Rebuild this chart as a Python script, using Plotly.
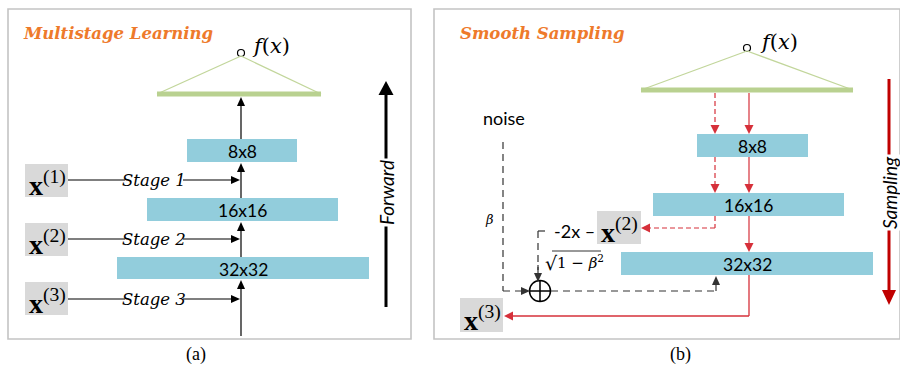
import plotly.graph_objects as go

# ---------------- content ----------------
panel_titles = ["Multistage Learning", "Smooth Sampling"]
panel_captions = ["(a)", "(b)"]
block_labels = ["8x8", "16x16", "32x32"]
stage_labels = ["Stage 1", "Stage 2", "Stage 3"]
input_labels = ["<b>x</b><sup>(1)</sup>", "<b>x</b><sup>(2)</sup>", "<b>x</b><sup>(3)</sup>"]
direction_labels = ["Forward", "Sampling"]
output_label = "<i>f</i>(<i>x</i>)"
noise_label = "noise"
beta_label = "β"
coef_label = "-2x –"
sqrt_sign = "√"
sqrt_body = "1 − <i>β</i><sup>2</sup>"

# ---------------- geometry (pixels) ----------------
W, H = 900, 365
panel_boxes = [(8, 411, 9, 339), (434, 900, 9, 339)]
title_pos = [(21, 33), (458, 33)]
caption_pos = [(196, 354), (680, 354)]
a_blocks = [(187, 297, 139, 162), (147, 338, 198, 221), (117, 369, 257, 279)]
b_blocks = [(697, 808, 134, 157), (653, 844, 193, 216), (621, 873, 252, 275)]
a_inputs = [(25, 68, 164, 197), (25, 68, 223, 256), (25, 68, 282, 315)]
a_stage_y = [180, 239, 299]
a_tri = (157, 321, 94, 241, 56)   # x0, x1, base y, apex x, apex y
b_tri = (641, 853, 90, 747, 51)

BLUE = "#92CDDC"
GRAY = "#D9D9D9"
GREEN = "#C2D69B"
GREEN_BAR = "#B9D190"
ORANGE = "#EE7A2B"
RED = "#C00000"
RED_L = "#D6303A"
BORDER = "#C4C4C4"
DASHK = "#333333"

SANS = "Lato"
SERIF = "DejaVu Serif"
TIMES = "Liberation Serif"

shapes = []
annots = []


def rect(x0, x1, y0, y1, fill):
    shapes.append(dict(type="rect", x0=x0, x1=x1, y0=y0, y1=y1, xref="x", yref="y",
                       fillcolor=fill, line=dict(width=0), layer="below"))


def seg(x0, y0, x1, y1, color="black", width=1.2, dash="solid"):
    shapes.append(dict(type="line", x0=x0, y0=y0, x1=x1, y1=y1, xref="x", yref="y",
                       line=dict(color=color, width=width, dash=dash)))


def head(tx, ty, dx, dy, length, width, color):
    # triangle whose tip is (tx,ty), pointing along (dx,dy)
    bx, by = tx - dx * length, ty - dy * length
    px, py = -dy * width / 2, dx * width / 2
    path = "M {},{} L {},{} L {},{} Z".format(tx, ty, bx + px, by + py, bx - px, by - py)
    shapes.append(dict(type="path", path=path, xref="x", yref="y", fillcolor=color,
                       line=dict(width=0)))


def arrow(x0, y0, x1, y1, color="black", width=1.2, dash="solid", hl=9, hw=8):
    if x0 == x1:
        d = 1 if y1 > y0 else -1
        seg(x0, y0, x1, y1 - d * (hl - 1), color, width, dash)
        head(x1, y1, 0, d, hl, hw, color)
    else:
        d = 1 if x1 > x0 else -1
        seg(x0, y0, x1 - d * (hl - 1), y1, color, width, dash)
        head(x1, y1, d, 0, hl, hw, color)


def txt(x, y, text, size=15, family=SANS, color="black", xa="center", ya="middle",
        angle=0, bg=None, style="normal", weight="normal"):
    annots.append(dict(x=x, y=y, xref="x", yref="y", text=text, showarrow=False,
                       xanchor=xa, yanchor=ya, textangle=angle,
                       font=dict(size=size, family=family, color=color, style=style,
                                 weight=weight),
                       bgcolor=bg or "rgba(0,0,0,0)", borderpad=1))


# panels
for (x0, x1, y0, y1) in panel_boxes:
    shapes.append(dict(type="rect", x0=x0, x1=x1, y0=y0, y1=y1, xref="x", yref="y",
                       line=dict(color=BORDER, width=1.6), fillcolor="rgba(0,0,0,0)"))
for (x, y), t in zip(title_pos, panel_titles):
    txt(x, y, t, size=16.5, family=SERIF, color=ORANGE, xa="left", style="italic",
        weight="bold")
for (x, y), t in zip(caption_pos, panel_captions):
    txt(x, y, t, size=18, family=TIMES)

# triangles
for (tx0, tx1, ty, ax_, ay_) in (a_tri, b_tri):
    seg(tx0, ty, ax_, ay_, GREEN, 1.3)
    seg(tx1, ty, ax_, ay_, GREEN, 1.3)
    seg(tx0, ty, tx1, ty, GREEN_BAR, 5)

# ---------------- panel (a) ----------------
for (x0, x1, y0, y1), lab in zip(a_blocks, block_labels):
    rect(x0, x1, y0, y1, BLUE)
    txt((x0 + x1) / 2, (y0 + y1) / 2 + 1, lab, size=17.5)
cx = 241
arrow(cx, a_blocks[0][2], cx, a_tri[2] + 3)
arrow(cx, a_blocks[1][2], cx, a_blocks[0][3] + 1)
arrow(cx, a_blocks[2][2], cx, a_blocks[1][3] + 1)
arrow(cx, 336, cx, a_blocks[2][3] + 1)
for (x0, x1, y0, y1), lab, sy, st in zip(a_inputs, input_labels, a_stage_y, stage_labels):
    rect(x0, x1, y0, y1, GRAY)
    txt(x0 + 2, (y0 + y1) / 2 + 3, lab, size=28, family=TIMES, xa="left")
    seg(x1, sy, 125, sy)
    txt(154, sy, st, size=16.5, family=SERIF, style="italic")
    arrow(183, sy, cx - 1, sy)
# forward arrow
arrow(386, 307, 386, 81, width=3, hl=14, hw=15)
txt(386, 193, direction_labels[0], size=19, angle=-90, bg="white", style="italic")
# output
txt(250, 46, output_label, size=21, family=SERIF, xa="left")

# ---------------- panel (b) ----------------
for (x0, x1, y0, y1), lab in zip(b_blocks, block_labels):
    rect(x0, x1, y0, y1, BLUE)
    txt((x0 + x1) / 2, (y0 + y1) / 2 + 1, lab, size=17.5)
sx, dx = 749, 715
arrow(sx, b_tri[2] + 3, sx, b_blocks[0][2], color=RED_L, hw=9)
arrow(dx, b_tri[2] + 3, dx, b_blocks[0][2], color=RED_L, dash="5px,3px", hw=9)
arrow(sx, b_blocks[0][3], sx, b_blocks[1][2], color=RED_L, hw=9)
arrow(dx, b_blocks[0][3], dx, b_blocks[1][2], color=RED_L, dash="5px,3px", hw=9)
arrow(sx, b_blocks[1][3], sx, b_blocks[2][2], color=RED_L, hw=9)
# dashed red to x(2)
seg(dx, b_blocks[1][3], dx, 228, RED_L, 1.2, "5px,3px")
arrow(dx, 228, 641, 228, color=RED_L, dash="5px,3px", hw=9)
# x(2) box
rect(597, 641, 211, 244, GRAY)
txt(599, 230, input_labels[1], size=28, family=TIMES, xa="left")
# solid red to x(3)
seg(sx, b_blocks[2][3], sx, 316, RED_L, 1.3)
arrow(sx, 316, 504, 316, color=RED_L, width=1.3, hw=9)
rect(460, 503, 298, 332, GRAY)
txt(462, 318, input_labels[2], size=28, family=TIMES, xa="left")
# noise path
txt(504, 118, noise_label, size=18)
seg(503, 142, 503, 291, DASHK, 1.2, "7px,5px")
arrow(503, 291, 530, 291, color=DASHK, dash="7px,5px")
txt(489, 219, beta_label, size=13, family=SERIF, style="italic")
# -2x path
seg(538, 231, 549, 231, DASHK, 1.2, "7px,5px")
seg(538, 231, 538, 270, DASHK, 1.2, "7px,5px")
arrow(538, 265, 538, 282, color=DASHK)
txt(552, 231, coef_label, size=18, xa="left")
txt(543, 263, sqrt_sign, size=19, family=SERIF, xa="left")
txt(555, 262, sqrt_body, size=15, family=SERIF, xa="left")
seg(552, 251, 601, 251, DASHK, 1)
# plus circle -> 32x32
seg(551, 291, 716, 291, DASHK, 1.2, "7px,5px")
arrow(716, 291, 716, 276, color=DASHK)
# sampling arrow
arrow(889, 79, 889, 305, color=RED, width=3, hl=15, hw=14)
txt(889, 193, direction_labels[1], size=19, angle=-90, bg="white", style="italic")
# output
txt(758, 42, output_label, size=21, family=SERIF, xa="left")

fig = go.Figure()
# f(x) node circles and the summation node
fig.add_trace(go.Scatter(x=[a_tri[3], b_tri[3]], y=[a_tri[4] - 3, b_tri[4] - 3], mode="markers",
                         hoverinfo="skip",
                         marker=dict(symbol="circle", size=7, color="white",
                                     line=dict(color="black", width=1.2))))
fig.add_trace(go.Scatter(x=[540], y=[291], mode="markers", hoverinfo="skip",
                         marker=dict(symbol="circle-cross-open", size=21, color="black",
                                     line=dict(color="black", width=1.5))))

fig.update_layout(
    width=W, height=H, margin=dict(l=0, r=0, t=0, b=0),
    plot_bgcolor="white", paper_bgcolor="white", showlegend=False,
    xaxis=dict(range=[0, W], visible=False, fixedrange=True),
    yaxis=dict(range=[H, 0], visible=False, fixedrange=True),
    shapes=shapes, annotations=annots,
)
fig.write_html("out.html")
